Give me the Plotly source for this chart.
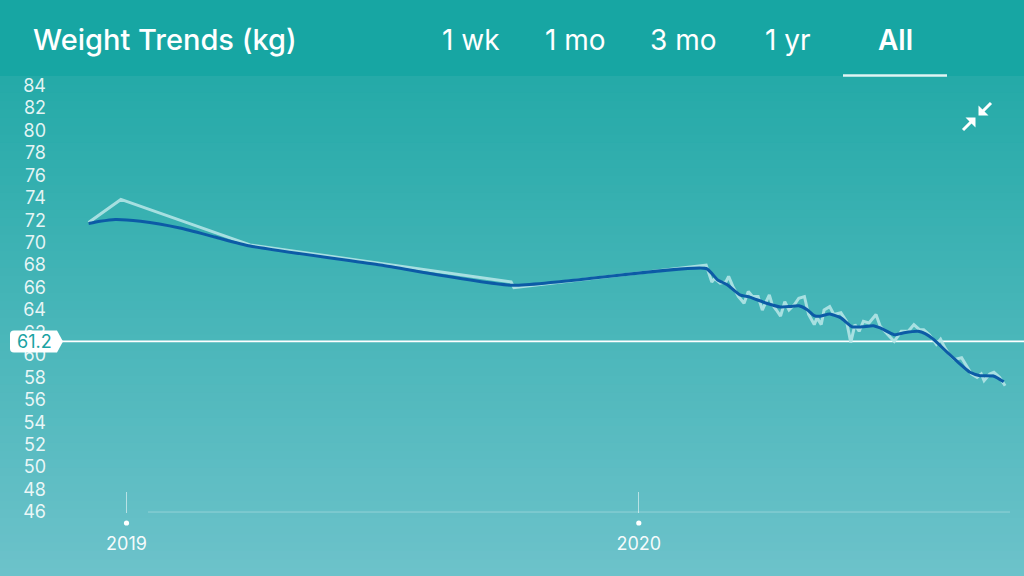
import plotly.graph_objects as go
import pandas as pd

# ---------------- data ----------------
raw_dates = [
    "2018-12-05", "2018-12-28", "2019-03-30", "2019-10-02", "2019-10-04",
    "2020-02-18", "2020-02-22", "2020-02-24", "2020-02-28", "2020-03-03",
    "2020-03-05", "2020-03-08", "2020-03-12", "2020-03-16", "2020-03-19",
    "2020-03-22", "2020-03-26", "2020-03-29", "2020-04-03", "2020-04-05",
    "2020-04-08", "2020-04-11", "2020-04-14", "2020-04-17", "2020-04-21",
    "2020-04-24", "2020-04-28", "2020-05-01", "2020-05-05", "2020-05-07",
    "2020-05-10", "2020-05-12", "2020-05-16", "2020-05-19", "2020-05-24",
    "2020-05-28", "2020-05-31", "2020-06-03", "2020-06-06", "2020-06-09",
    "2020-06-13", "2020-06-18", "2020-06-21", "2020-06-25", "2020-06-28",
    "2020-07-01", "2020-07-06", "2020-07-11", "2020-07-15", "2020-07-19",
    "2020-07-22", "2020-07-26", "2020-07-31", "2020-08-03", "2020-08-06",
    "2020-08-09", "2020-08-13", "2020-08-18", "2020-08-20", "2020-08-25",
    "2020-08-29", "2020-09-01", "2020-09-03", "2020-09-07", "2020-09-10",
    "2020-09-14", "2020-09-18",
]
raw_kg = [
    71.8, 73.85, 69.8, 66.5, 66.0,
    68.0, 66.5, 66.8, 66.4, 66.5,
    67.0, 66.1, 65.2, 64.6, 65.65,
    65.2, 65.2, 64.0, 65.35, 64.5,
    64.0, 63.45, 64.75, 64.0, 64.5,
    65.05, 65.2, 63.6, 62.7, 63.3,
    62.7, 64.0, 64.3, 63.6, 63.75,
    63.0, 61.1, 62.7, 62.1, 63.0,
    62.85, 63.6, 62.55, 61.95, 61.6,
    61.2, 62.1, 62.1, 62.7, 62.25,
    62.25, 61.8, 60.95, 61.4, 60.65,
    60.05, 59.6, 59.75, 59.3, 58.3,
    58.0, 58.3, 57.7, 58.3, 58.45,
    58.0, 57.25,
]

trend_dates = [
    "2018-12-05", "2018-12-13", "2018-12-24", "2019-01-11", "2019-02-08",
    "2019-03-05", "2019-03-30", "2019-07-01", "2019-10-03", "2020-02-18",
    "2020-02-26", "2020-03-04", "2020-03-13", "2020-03-20", "2020-04-01",
    "2020-04-11", "2020-04-18", "2020-04-24", "2020-04-30", "2020-05-05",
    "2020-05-09", "2020-05-16", "2020-05-24", "2020-06-01", "2020-06-08",
    "2020-06-16", "2020-06-21", "2020-07-01", "2020-07-08", "2020-07-18",
    "2020-07-23", "2020-07-29", "2020-08-08", "2020-08-15", "2020-08-24",
    "2020-08-31", "2020-09-10", "2020-09-17",
]
trend_kg = [
    71.7, 71.9, 72.07, 71.9, 71.3,
    70.5, 69.7, 68.0, 66.2, 67.7,
    66.7, 66.25, 65.35, 65.15, 64.6,
    64.27, 64.32, 64.38, 64.03, 63.5,
    63.44, 63.65, 63.3, 62.5, 62.5,
    62.6, 62.4, 61.8, 61.97, 62.1,
    61.9, 61.38, 60.2, 59.4, 58.45,
    58.15, 58.1, 57.6,
]

goal_kg = 61.2
y_tick_values = list(range(46, 86, 2))
x_tick_dates = ["2019-01-01", "2020-01-01"]
x_tick_labels = ["2019", "2020"]
title_text = "Weight Trends (kg)"
tab_labels = ["1 wk", "1 mo", "3 mo", "1 yr", "All"]
active_tab = "All"

# ---------------- layout helpers ----------------
W, H = 1024, 576
FONT = "Inter"


def pxx(p):
    return p / W


def pxy(p):
    return 1 - p / H


# y axis: 84 kg at 85.5 px, 11.224 px per kg
Y_MAX = 91.62
Y_MIN = 40.30
# x axis: 2019-01-01 at 126.5 px, 2020-01-01 at 638.8 px
px_per_day = (638.8 - 126.5) / 365.0
x_start = pd.Timestamp("2019-01-01") - pd.Timedelta(days=126.5 / px_per_day)
x_end = pd.Timestamp("2020-01-01") + pd.Timedelta(days=(W - 638.8) / px_per_day)

fig = go.Figure()

fig.add_trace(go.Scatter(
    x=raw_dates, y=raw_kg, mode="lines",
    line=dict(color="rgba(178,228,230,0.9)", width=3),
    hoverinfo="skip", showlegend=False,
))
fig.add_trace(go.Scatter(
    x=trend_dates, y=trend_kg, mode="lines",
    line=dict(color="#0c5ba6", width=3, shape="spline", smoothing=0.5),
    showlegend=False,
))

shapes = []
# background gradient
top_c = (37, 170, 168)
bot_c = (108, 194, 202)
y_top, y_bot = 76, 576
n = 60
for i in range(n):
    t = i / (n - 1)
    c = tuple(round(a + (b - a) * t) for a, b in zip(top_c, bot_c))
    y0 = y_top + (y_bot - y_top) * i / n
    y1 = y_top + (y_bot - y_top) * (i + 1) / n + 0.6
    shapes.append(dict(type="rect", xref="paper", yref="paper",
                       x0=0, x1=1, y0=pxy(y1), y1=pxy(y0),
                       fillcolor="rgb(%d,%d,%d)" % c, line_width=0, layer="below"))
# header band
shapes.append(dict(type="rect", xref="paper", yref="paper", x0=0, x1=1,
                   y0=pxy(76), y1=1, fillcolor="rgb(23,166,163)", line_width=0,
                   layer="below"))
# active tab underline
shapes.append(dict(type="line", xref="paper", yref="paper",
                   x0=pxx(843), x1=pxx(947), y0=pxy(75.5), y1=pxy(75.5),
                   line=dict(color="rgba(235,248,248,0.95)", width=2.5)))
# baseline
shapes.append(dict(type="line", xref="paper", yref="y",
                   x0=pxx(148), x1=pxx(1010), y0=46, y1=46,
                   line=dict(color="rgba(255,255,255,0.3)", width=1), layer="below"))
# goal line
shapes.append(dict(type="line", xref="paper", yref="y",
                   x0=pxx(60), x1=1, y0=goal_kg, y1=goal_kg,
                   line=dict(color="white", width=1.6), layer="below"))
# goal label background (flag)
gy = (Y_MAX - goal_kg) / (Y_MAX - Y_MIN) * H
t, b = gy - 11, gy + 11
path = ("M {a},{t} L {c},{t} L {d},{m} L {c},{b} L {a},{b} "
        "Q {l},{b} {l},{b2} L {l},{t2} Q {l},{t} {a},{t} Z").format(
    a=pxx(14), c=pxx(57), d=pxx(63), l=pxx(10),
    t=pxy(t), b=pxy(b), m=pxy(gy), t2=pxy(t + 4), b2=pxy(b - 4))
shapes.append(dict(type="path", xref="paper", yref="paper", path=path,
                   fillcolor="white", line_width=0))
# year dots
for d in x_tick_dates:
    shapes.append(dict(type="circle", xref="x", yref="paper",
                       xsizemode="pixel", ysizemode="pixel",
                       xanchor=d, yanchor=pxy(523),
                       x0=-2.6, x1=2.6, y0=-2.6, y1=2.6,
                       fillcolor="white", line_width=0))


# collapse icon: two inward arrows
def tri(pts):
    s = "M " + " L ".join("%f,%f" % (pxx(x), pxy(y)) for x, y in pts) + " Z"
    return dict(type="path", xref="paper", yref="paper", path=s,
                fillcolor="white", line_width=0)


shapes.append(tri([(978.5, 105.5), (978.5, 115.5), (988.5, 115.5)]))
shapes.append(dict(type="line", xref="paper", yref="paper",
                   x0=pxx(982), y0=pxy(112), x1=pxx(991), y1=pxy(103),
                   line=dict(color="white", width=3)))
shapes.append(tri([(965.5, 117.5), (975.5, 117.5), (975.5, 127.5)]))
shapes.append(dict(type="line", xref="paper", yref="paper",
                   x0=pxx(972), y0=pxy(121), x1=pxx(963), y1=pxy(130),
                   line=dict(color="white", width=3)))

annotations = []
annotations.append(dict(text=title_text, xref="paper", yref="paper",
                        x=pxx(31), y=pxy(40), xanchor="left", yanchor="middle",
                        showarrow=False,
                        font=dict(family=FONT, size=29, color="white", weight=500)))
tab_centers = [471, 575, 683, 788, 895]
for lab, cx in zip(tab_labels, tab_centers):
    annotations.append(dict(text=lab, xref="paper", yref="paper",
                            x=pxx(cx), y=pxy(40), xanchor="center", yanchor="middle",
                            showarrow=False,
                            font=dict(family=FONT, size=28, color="white",
                                      weight=600 if lab == active_tab else 400)))
annotations.append(dict(text=str(goal_kg), xref="paper", yref="y",
                        x=pxx(34), y=goal_kg, xanchor="center", yanchor="middle",
                        showarrow=False,
                        font=dict(family=FONT, size=18, color="#1aa3a3")))

fig.update_layout(
    width=W, height=H,
    margin=dict(l=0, r=0, t=0, b=0),
    paper_bgcolor="rgb(60,178,179)",
    plot_bgcolor="rgba(0,0,0,0)",
    showlegend=False,
    shapes=shapes,
    annotations=annotations,
    xaxis=dict(
        type="date", range=[x_start, x_end], domain=[0, 1],
        anchor="free", position=pxy(513),
        showgrid=False, zeroline=False, showline=False,
        tickmode="array", tickvals=x_tick_dates, ticktext=x_tick_labels,
        ticks="inside", ticklen=21, tickwidth=1, tickcolor="rgba(255,255,255,0.55)",
        tickfont=dict(family=FONT, size=18, color="rgba(255,255,255,0.95)"),
        ticklabelstandoff=18,
        fixedrange=True,
    ),
    yaxis=dict(
        range=[Y_MIN, Y_MAX], domain=[0, 1],
        anchor="free", position=pxx(46),
        showgrid=False, zeroline=False, showline=False,
        tickmode="array", tickvals=y_tick_values,
        ticks="",
        tickfont=dict(family=FONT, size=18, color="rgba(255,255,255,0.88)"),
        fixedrange=True,
    ),
)

fig.write_html("out.html")
